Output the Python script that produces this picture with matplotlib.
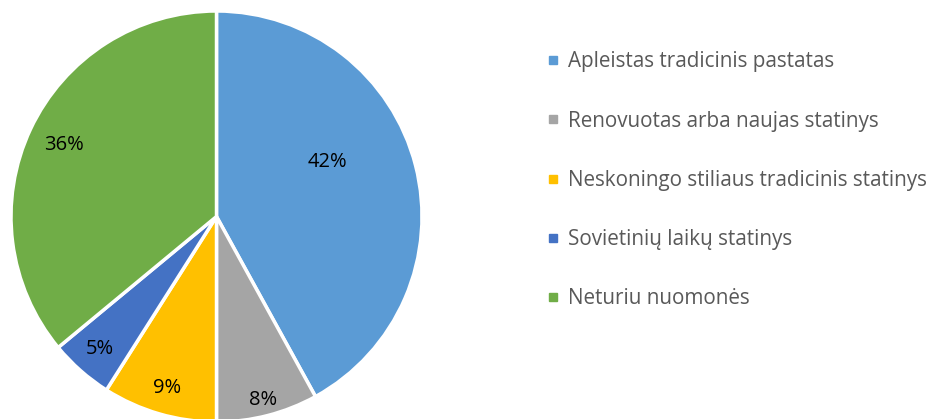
import numpy as np
import matplotlib.pyplot as plt
from matplotlib.lines import Line2D

# data
labels = ['Apleistas tradicinis pastatas', 'Renovuotas arba naujas statinys',
          'Neskoningo stiliaus tradicinis statinys', 'Sovietinių laikų statinys',
          'Neturiu nuomonės']
shares = [42, 8, 9, 5, 36]
colors = ['#5B9BD5', '#A5A5A5', '#FFC000', '#4472C4', '#70AD47']
label_dist = [0.6, 0.92, 0.87, 0.86, 0.82]
label_turn = [12, 0, 0, 0, 0]  # Excel nudges the big label a bit upward

plt.rcParams['font.family'] = ['Open Sans', 'DejaVu Sans']

W, H = 933, 419
fig = plt.figure(figsize=(W / 100, H / 100), dpi=100)
r = 205.5
cx, cy = 216.5, 419 - 216.5
ax = fig.add_axes([(cx - r) / W, (cy - r) / H, 2 * r / W, 2 * r / H])

wedges, texts, autotexts = ax.pie(shares, colors=colors, startangle=90, counterclock=False,
                                  autopct='%d%%', pctdistance=0.6,
                                  wedgeprops=dict(edgecolor='white', linewidth=2.5),
                                  textprops=dict(fontsize=14.5, color='black'))
for w, t, d, a in zip(wedges, autotexts, label_dist, label_turn):
    ang = np.deg2rad((w.theta1 + w.theta2) / 2 + a)
    t.set_position((d * np.cos(ang), d * np.sin(ang)))
ax.set_xlim(-1, 1)
ax.set_ylim(-1, 1)
ax.set_aspect('equal')

handles = [Line2D([], [], marker='s', linestyle='none', markersize=5.5,
                  markerfacecolor=c, markeredgecolor=c) for c in colors]
leg = fig.legend(handles, labels, loc='upper left', bbox_to_anchor=(540 / W, 1 - 43 / H),
                 frameon=False, fontsize=14.9, labelspacing=1.85, handlelength=0.5,
                 handletextpad=0.45, borderaxespad=0)
for t in leg.get_texts():
    t.set_color('#595959')

fig.savefig('out.png', dpi=100)
